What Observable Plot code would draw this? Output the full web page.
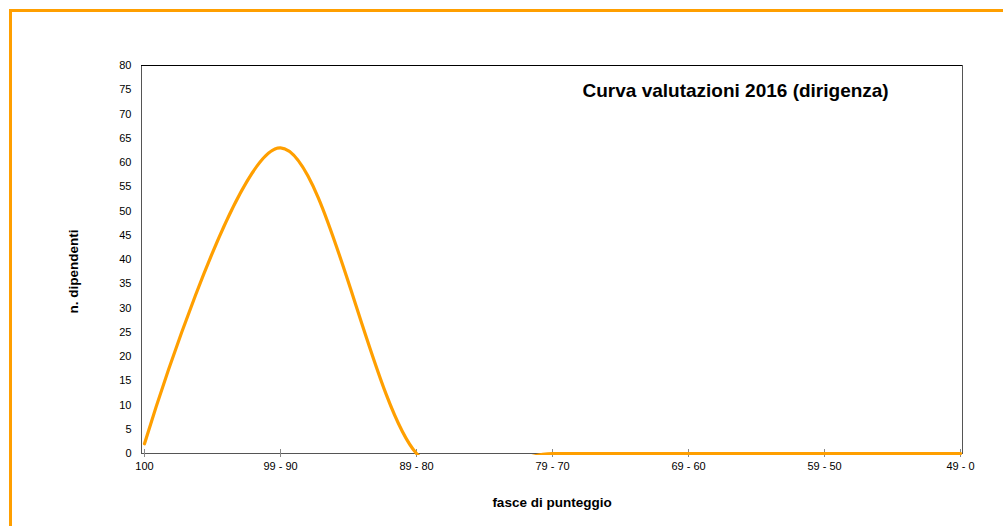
<!DOCTYPE html>
<html>
<head>
<meta charset="utf-8">
<script src="https://cdn.jsdelivr.net/npm/d3@7"></script>
<script src="https://cdn.jsdelivr.net/npm/@observablehq/plot@0.6"></script>
<style>
  html, body { margin: 0; padding: 0; background: #fff; }
  #wrap { position: relative; width: 1003px; height: 526px; overflow: hidden; }
  #border { position: absolute; left: 9px; top: 9px; width: 1100px; height: 600px;
            border-left: 3px solid #ff9f00; border-top: 3px solid #ff9f00; pointer-events: none; }
</style>
</head>
<body>
<div id="wrap"><div id="border"></div></div>
<script>
const categories = ["100", "99 - 90", "89 - 80", "79 - 70", "69 - 60", "59 - 50", "49 - 0"];
const values = [2, 63, 0, 0, 0, 0, 0];
const yTicks = [0, 5, 10, 15, 20, 25, 30, 35, 40, 45, 50, 55, 60, 65, 70, 75, 80];
const title = "Curva valutazioni 2016 (dirigenza)";
const yLabel = "n. dipendenti";
const xLabel = "fasce di punteggio";

const data = categories.map((c, i) => ({cat: c, v: values[i]}));
const orange = "#ff9f00";

const chart = Plot.plot({
  width: 1003,
  height: 526,
  marginLeft: 141,
  marginRight: 41,
  marginTop: 65,
  marginBottom: 73,
  style: {fontFamily: "'Liberation Sans', Arial, sans-serif", fontSize: "11px", color: "#000", background: "transparent"},
  x: {type: "point", domain: categories, padding: 0, label: null},
  y: {domain: [0, 80], label: null},
  marks: [
    Plot.frame({stroke: "#555"}),
    Plot.ruleY([80], {stroke: "#000"}),
    Plot.axisY({ticks: yTicks, tickSize: 0, tickPadding: 10, label: null}),
    Plot.axisX({tickSize: 8, dy: -4, tickPadding: 5, label: null, stroke: "#888"}),
    Plot.line(data, {x: "cat", y: "v", curve: "cardinal", tension: 0, stroke: orange, strokeWidth: 3.2, clip: true}),
    Plot.text([title], {frameAnchor: "top-left", dx: 441, dy: 25, textAnchor: "start", lineAnchor: "middle",
      fontWeight: "bold", fontSize: 19, fill: "#000"}),
    Plot.text([yLabel], {frameAnchor: "left", dx: -68, dy: 12, rotate: -90, textAnchor: "middle", lineAnchor: "middle",
      fontWeight: "bold", fontSize: 13.5, fill: "#000"}),
    Plot.text([xLabel], {frameAnchor: "bottom", dy: 49, lineAnchor: "middle", textAnchor: "middle",
      fontWeight: "bold", fontSize: 13.5, fill: "#000"})
  ]
});
// let the zero-level stroke show fully below the frame edge
chart.querySelectorAll("clipPath rect").forEach(r => {
  const h = +r.getAttribute("height");
  if (h) r.setAttribute("height", h + 2);
});
chart.style.position = "absolute";
chart.style.left = "0px";
chart.style.top = "0px";
document.getElementById("wrap").insertBefore(chart, document.getElementById("border"));
</script>
</body>
</html>
